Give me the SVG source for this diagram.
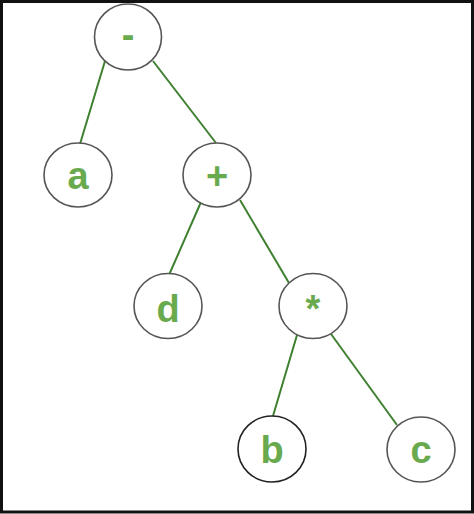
<svg xmlns="http://www.w3.org/2000/svg" width="474" height="514" viewBox="0 0 474 514">
<style>
.node ellipse{fill:#fff;stroke:#555;stroke-width:1.6}
.node text{font-family:"Liberation Sans",Arial,sans-serif;font-weight:bold;font-size:38px;fill:#6aaa4f;text-anchor:middle}
.edges line{stroke:#3f8030;stroke-width:2}
</style>
<rect x="1.5" y="1.5" width="471" height="510.5" fill="#fff" stroke="#111" stroke-width="3"/>
<g class="edges">
<line x1="105" y1="61" x2="80" y2="144"/>
<line x1="153" y1="61" x2="216" y2="143"/>
<line x1="201" y1="202" x2="169" y2="275"/>
<line x1="240" y1="200" x2="289" y2="283"/>
<line x1="297" y1="335" x2="273" y2="416"/>
<line x1="331" y1="334" x2="397" y2="425"/>
</g>
<g id="n-minus" class="node"><ellipse cx="128" cy="37" rx="33.5" ry="33"/><text x="128" y="48">-</text></g>
<g id="n-a" class="node"><ellipse cx="78" cy="175" rx="34" ry="32"/><text x="78" y="189">a</text></g>
<g id="n-plus" class="node"><ellipse cx="217" cy="175" rx="34" ry="32"/><text x="217" y="189">+</text></g>
<g id="n-d" class="node"><ellipse cx="168" cy="306" rx="34" ry="32.5"/><text x="168" y="322">d</text></g>
<g id="n-mul" class="node"><ellipse cx="313" cy="306" rx="34" ry="32.5"/><text x="313" y="322">*</text></g>
<g id="n-b" class="node"><ellipse cx="272" cy="449" rx="34" ry="33" style="stroke:#222"/><text x="272" y="463">b</text></g>
<g id="n-c" class="node"><ellipse cx="421" cy="449.5" rx="34" ry="32.5"/><text x="421" y="463">c</text></g>
</svg>
